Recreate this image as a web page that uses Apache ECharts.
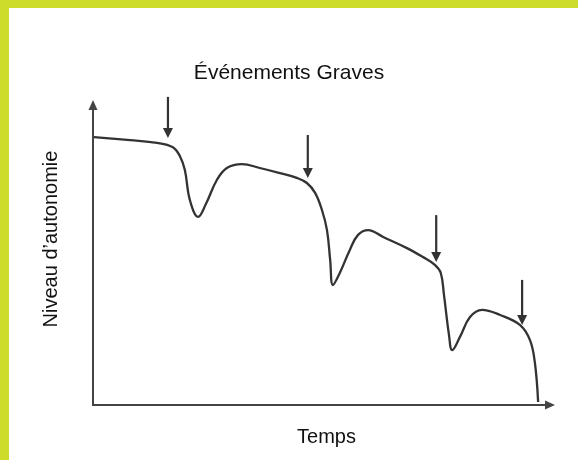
<!DOCTYPE html>
<html>
<head>
<meta charset="utf-8">
<script src="https://cdn.jsdelivr.net/npm/echarts@6/dist/echarts.min.js"></script>
<style>html,body{margin:0;padding:0;background:#fff}#c{width:578px;height:460px}</style>
</head>
<body>
<div id="c"></div>
<script>
// Curve data (time, autonomy level)
const time  = [0.2, 8.1, 14.0, 17.4, 19.0, 20.1, 21.2, 23.0, 24.7, 27.1, 29.3, 32.6, 36.5, 40.9, 44.6, 46.8, 48.6, 50.1, 51.2, 51.9, 52.5, 54.0, 56.2, 58.0, 60.2, 63.5, 68.7, 72.2, 74.8, 76.1, 76.8, 77.9, 78.6, 80.3, 82.5, 85.1, 89.1, 93.4, 95.6, 96.7, 97.4];
const level = [89.3, 88.3, 87.4, 86.0, 83.0, 78.3, 68.3, 62.7, 67.0, 75.0, 79.0, 80.3, 79.0, 77.3, 75.7, 74.0, 70.7, 65.0, 58.3, 48.3, 40.0, 44.0, 51.7, 56.7, 58.3, 56.0, 52.3, 49.3, 46.7, 44.0, 36.7, 23.3, 18.3, 22.7, 29.3, 31.7, 30.0, 26.7, 21.7, 14.0, 1.0];
// Severe events: arrow position, arrow top and arrow tip
const eventTime = [16.4, 47.0, 75.1, 93.9];
const eventTop  = [102.7, 90.0, 63.3, 41.7];
const eventTip  = [89.0, 75.7, 47.7, 26.7];

const titleText = 'Événements Graves';
const xName = 'Temps';
const yName = 'Niveau d\u2019autonomie';

const curve = time.map((t, i) => [t, level[i]]);
const events = eventTime.map((t, i) => [t, eventTop[i], eventTip[i]]);

const chart = echarts.init(document.getElementById('c'), null, {renderer: 'canvas'});
const font = '"Liberation Sans", Arial, sans-serif';
chart.setOption({
  animation: false,
  backgroundColor: '#fff',
  title: {
    text: titleText, left: 'center', top: 58,
    textStyle: {fontFamily: font, fontSize: 21, fontWeight: 'normal', color: '#111'}
  },
  grid: {left: 93, right: 28, top: 105, bottom: 55},
  xAxis: {
    type: 'value', min: 0, max: 100,
    name: xName, nameLocation: 'middle', nameGap: 22,
    nameTextStyle: {fontFamily: font, fontSize: 20, color: '#111', padding: [0, 0, 0, 10]},
    axisLine: {show: true, lineStyle: {color: '#444', width: 2}, symbol: ['none', 'triangle'], symbolSize: [9, 10]},
    axisTick: {show: false}, axisLabel: {show: false}, splitLine: {show: false}
  },
  yAxis: {
    type: 'value', min: 0, max: 100,
    name: yName, nameLocation: 'middle', nameGap: 32,
    nameTextStyle: {fontFamily: font, fontSize: 20, color: '#111', padding: [0, 0, 0, 32]},
    axisLine: {show: true, lineStyle: {color: '#444', width: 2}, symbol: ['none', 'triangle'], symbolSize: [9, 10]},
    axisTick: {show: false}, axisLabel: {show: false}, splitLine: {show: false}
  },
  graphic: [
    {type: 'rect', left: 0, top: 0, shape: {width: 578, height: 8}, style: {fill: '#cddc2b'}, z: 100},
    {type: 'rect', left: 0, top: 0, shape: {width: 9, height: 460}, style: {fill: '#cddc2b'}, z: 100}
  ],
  series: [
    {
      type: 'line', data: curve, smooth: 0.4, showSymbol: false, clip: false,
      lineStyle: {color: '#333', width: 2.3}
    },
    {
      type: 'custom', data: events, clip: false,
      encode: {x: 0, y: [1, 2]},
      renderItem: function (params, api) {
        const x = api.value(0);
        const p1 = api.coord([x, api.value(1)]);
        const p2 = api.coord([x, api.value(2)]);
        const head = 10, hw = 5;
        return {
          type: 'group',
          children: [
            {type: 'line', shape: {x1: p1[0], y1: p1[1], x2: p2[0], y2: p2[1] - head + 1},
             style: {stroke: '#333', lineWidth: 2.2}},
            {type: 'polygon', shape: {points: [[p2[0] - hw, p2[1] - head], [p2[0] + hw, p2[1] - head], [p2[0], p2[1]]]},
             style: {fill: '#333'}}
          ]
        };
      }
    }
  ]
});
</script>
</body>
</html>
